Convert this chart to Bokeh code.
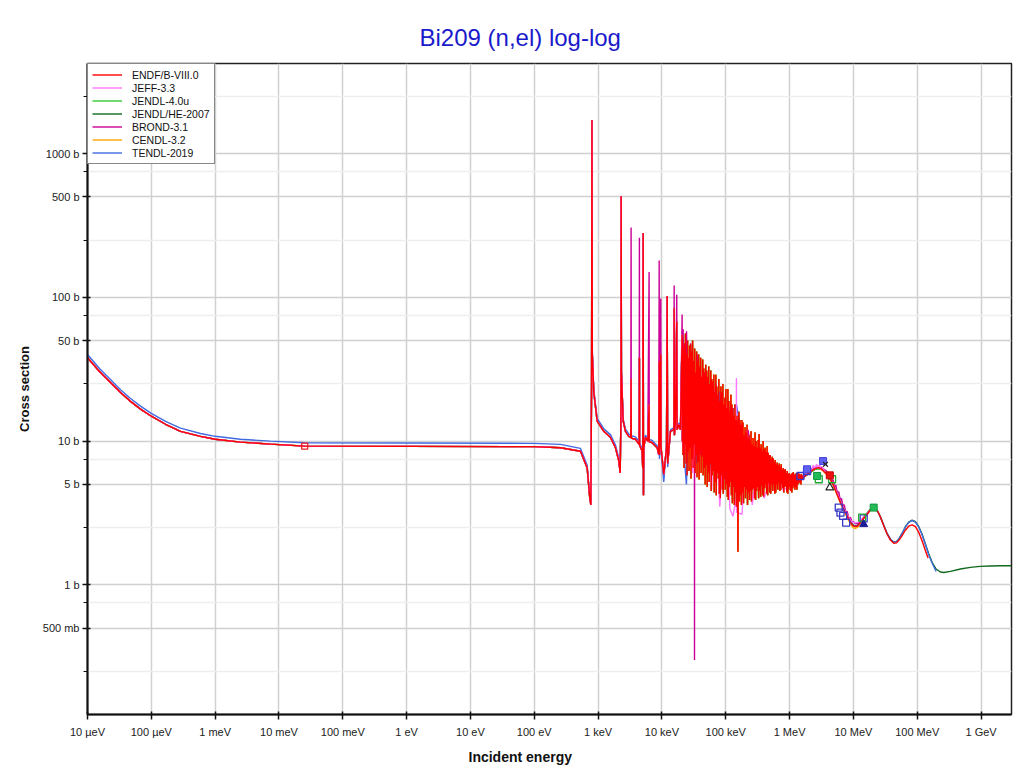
from bokeh.plotting import figure
from bokeh.models import (Range1d, FixedTicker, CustomJSTickFormatter, Legend,
                          LegendItem, Title)
from bokeh.embed import file_html
from bokeh.resources import INLINE

# ---------------- axes ----------------
x_tick_values = [1e-5, 1e-4, 1e-3, 1e-2, 1e-1, 1e0, 1e1, 1e2, 1e3, 1e4, 1e5, 1e6, 1e7, 1e8, 1e9]
x_tick_labels = ["10 µeV", "100 µeV", "1 meV", "10 meV", "100 meV", "1 eV", "10 eV",
                 "100 eV", "1 keV", "10 keV", "100 keV", "1 MeV", "10 MeV", "100 MeV", "1 GeV"]
y_tick_values = [0.5, 1, 5, 10, 50, 100, 500, 1000]
y_tick_labels = ["500 mb", "1 b", "5 b", "10 b", "50 b", "100 b", "500 b", "1000 b"]
y_minor_ticks = [0.25, 0.75, 2.5, 7.5, 25, 75, 250, 750, 2500]

# ---------------- evaluated data (E in eV, cross section in b) ----------------
# thermal / 1/v region (ENDF and most libraries)
low_e = [1e-5, 1.54e-5, 2.29e-5, 3.29e-5, 4.72e-5, 6.77e-5, 1.0e-4, 1.67e-4, 2.86e-4, 5.89e-4,
         1.0e-3, 2.49e-3, 7.36e-3, 0.0253, 1.0, 100, 257, 530, 674, 740, 770]
low_xs = [38, 30.5, 25.6, 21.8, 18.9, 16.7, 14.9, 13.1, 11.7, 10.8,
          10.3, 9.84, 9.53, 9.23, 9.2, 9.15, 9.0, 8.5, 6.5, 4.05, 3.6]
tendl_low_xs = [40, 32, 26.8, 22.8, 19.8, 17.5, 15.6, 13.7, 12.3, 11.3,
                10.8, 10.3, 10.0, 9.75, 9.7, 9.65, 9.5, 8.9, 6.8, 4.2, 3.7]

# resolved resonance region
res_e = [790, 801, 812, 855, 966, 1227, 1563, 1871, 2110, 2218, 2280, 2297, 2320, 2471, 2685,
         3021, 3250, 3290, 3310, 3849, 4397, 4440, 4460, 4898, 5002, 5082, 5140, 5200, 5521,
         5998, 6300, 6330, 7031, 8414, 8913, 9057, 9150, 9590, 9700, 10690, 11800, 12080,
         12300, 13610, 15400, 15550, 15700, 16290, 17070, 17300, 18360, 19500, 20730, 20900]
res_xs = [25, 1700, 40, 22, 13.8, 11.7, 10.6, 9.0, 7.3, 6.0, 15, 504, 30, 13.8, 11.7,
          10.8, 10.6, 27, 10.5, 10.3, 9.5, 38, 9.4, 8.5, 6.5, 280, 4.2, 9, 10.6,
          10.0, 18, 9.9, 9.75, 9.0, 8.1, 36, 8, 40, 9, 5.9, 9, 102,
          7, 11.7, 12, 84, 11, 13.8, 68, 12, 13, 12, 55, 10]
brond_res_xs = [25, 1700, 40, 22, 13.8, 11.7, 10.6, 9.0, 7.3, 6.0, 15, 504, 30, 13.8, 11.7,
                10.8, 10.6, 306, 10.5, 10.3, 9.5, 260, 9.4, 8.5, 6.5, 280, 4.2, 9, 10.6,
                10.0, 150, 9.9, 9.75, 9.0, 8.1, 180, 8, 98, 9, 5.9, 9, 102,
                7, 11.7, 12, 121, 11, 13.8, 104, 12, 13, 12, 76, 10]
tendl_res_xs = [26, 1700, 42, 23, 14.4, 12.2, 11.1, 9.4, 7.6, 6.2, 15, 500, 31, 14.3, 12.1,
                11.2, 11.0, 27, 10.9, 10.7, 9.9, 38, 9.8, 8.8, 6.6, 280, 4.3, 9.3, 11.0,
                10.4, 18, 10.3, 10.1, 9.3, 8.0, 36, 7.5, 40, 8.5, 5.2, 9.3, 100,
                6.6, 12, 12.4, 84, 11.4, 14.2, 66, 12.3, 13.4, 12.4, 54, 10.3]

# dense resonance structure, ENDF (energies in keV)
grass_e_kev = [
    21.0, 21.4, 21.8, 22.2, 22.6, 23.0, 23.4, 23.85, 24.3, 24.75,
    25.2, 25.65, 26.1, 26.6, 27.1, 27.6, 28.1, 28.6, 29.1, 29.65,
    30.2, 30.75, 31.3, 31.9, 32.5, 33.1, 33.7, 34.3, 34.9, 35.55,
    36.2, 36.9, 37.6, 38.3, 39.0, 39.7, 40.4, 41.15, 41.9, 42.7,
    43.5, 44.3, 45.1, 45.95, 46.8, 47.65, 48.5, 49.4, 50.3, 51.25,
    52.2, 53.15, 54.1, 55.1, 56.1, 57.15, 58.2, 59.25, 60.3, 61.45,
    62.6, 63.75, 64.9, 66.1, 67.3, 68.55, 69.8, 71.1, 72.4, 73.7,
    75.0, 76.4, 77.8, 79.25, 80.7, 82.2, 83.7, 85.25, 86.8, 88.4,
    90.0, 91.65, 93.3, 95.05, 96.8, 98.6, 100.4, 102.25, 104.1, 106.0,
    107.9, 109.9, 111.9, 114.0, 116.1, 118.25, 120.4, 122.6, 124.8, 127.15,
    129.5, 131.85, 134.2, 136.7, 139.2, 141.8, 144.4, 147.05, 149.7, 152.5,
    155.3, 158.15, 161.0, 164.0, 167.0, 170.1, 173.2, 176.4, 179.6, 182.9,
    186.2, 189.65, 193.1, 196.7, 200.3, 204.0, 207.7, 211.55, 215.4, 219.35,
    223.3, 227.45, 231.6, 235.9, 240.2, 244.65, 249.1, 253.7, 258.3, 263.05,
    267.8, 272.75, 277.7, 282.85, 288.0, 293.35, 298.7, 304.2, 309.7, 315.45,
    321.2, 327.15, 333.1, 339.25, 345.4, 351.8, 358.2, 364.8, 371.4, 378.3,
    385.2, 392.3, 399.4, 406.8, 414.2, 421.9, 429.6, 437.5, 445.4, 453.65,
    461.9, 470.45, 479.0, 487.9, 496.8, 505.95, 515.1, 524.65, 534.2, 544.1,
    554.0, 564.25, 574.5, 585.1, 595.7, 606.75, 617.8, 629.25, 640.7, 652.55,
    664.4, 676.7, 689.0, 701.75, 714.5, 727.7, 740.9, 754.6, 768.3, 782.55,
    796.8, 811.55, 826.3, 841.6, 856.9, 872.75, 888.6, 905.05, 921.5, 938.55,
    955.6, 973.3, 991.0, 1009.35, 1027.7, 1046.7, 1065.7, 1085.4, 1105.1, 1125.55,
    1146.0, 1167.2, 1188.4, 1210.4, 1232.4, 1255.2, 1278.0, 1301.65, 1325.3, 1349.8,
    1374.3, 1399.75, 1425.2, 1451.6, 1478.0, 1505.35, 1532.7, 1561.05, 1589.4, 1618.8,
    1648.2]
grass_xs = [
    52, 8, 44, 6.5, 48, 9.5, 56, 7, 40, 5.8,
    50, 8.5, 38, 6.2, 46, 9, 47, 5.5, 42, 7.5,
    50, 6.5, 36, 9.5, 44, 6, 30, 8, 42, 5.6,
    36, 7.2, 40, 5.4, 33, 8.5, 38, 6, 28, 7.8,
    37, 5.8, 32, 6.5, 30, 5, 34, 6.8, 31, 4.8,
    28, 6, 33, 5.2, 25, 7, 31, 4.5, 27, 5.8,
    26, 6.2, 29, 4.4, 22, 5.2, 29, 4.2, 24, 6,
    21, 5.5, 27, 4.3, 19, 4, 24, 5.8, 22, 4.6,
    25, 4.3, 18, 5.4, 20, 4.6, 23, 5, 17, 4.1,
    23, 3.9, 19, 4.8, 16, 5.2, 21, 4.2, 18, 3.7,
    17, 4.8, 15, 3.6, 18, 4.4, 14, 3.5, 15, 12,
    1.7, 13, 16, 3.8, 14, 4.2, 13, 3.6, 14, 4.4,
    13.5, 3.7, 11, 4.8, 12.5, 4.0, 11.5, 4.6, 13, 3.6,
    10.5, 4.4, 11, 3.9, 10, 4.5, 11.7, 3.8, 9.5, 4.6,
    10.5, 4.7, 9.2, 4.0, 11.5, 3.9, 10, 4.5, 9.0, 4.8,
    10.2, 4.0, 11.2, 4.5, 9.0, 4.1, 9.5, 4.9, 8.6, 4.2,
    10, 4.1, 8.8, 4.7, 9, 5, 8.4, 4.3, 9.2, 4.2,
    8.3, 5.1, 8.0, 4.4, 8, 4.3, 7.5, 5.0, 7.8, 4.5,
    7.6, 5, 7.2, 4.3, 7.4, 4.4, 6.9, 5.0, 7.1, 4.6,
    6.8, 5.1, 7, 4.5, 6.6, 4.6, 6.9, 5, 6.3, 4.7,
    6.5, 4.4, 6.3, 4.8, 6.4, 4.9, 6.0, 4.4, 6.2, 4.3,
    5.9, 4.6, 6, 4.8, 5.8, 4.5, 5.9, 4.4, 6.0, 4.7,
    6.1, 4.9, 5.8, 4.6, 5.9, 4.8, 6.0, 4.6, 5.9, 5.0,
    6.1, 5.1, 5.9, 5.2, 5.8, 5.0, 5.9, 5.4, 5.7, 5.5,
    5.6]
brond_grass_e_kev = [21.5, 22.5, 24.3, 26.0, 28.1, 30.2, 32.3, 32.4, 32.5, 36.2, 40.4, 45.1,
                     54.1, 69.8, 90.0, 120.4, 160.0, 223.3, 300.0, 450.0, 700.0, 1000.0, 1500.0]
brond_grass_xs = [60, 8, 58, 9, 48, 10, 9, 0.3, 9, 40, 8, 30,
                  6, 25, 5, 18, 5, 12, 5, 8, 5.5, 5.3, 5.6]
jeff_grass_e_kev = [21.8, 25.2, 30.2, 40.4, 60.3, 67.3, 80.7, 100.4, 116.1, 129.5, 146.0,
                    147.0, 148.0, 180.0, 215.0, 260.0, 330.0, 400.0, 600.0, 800.0, 1200.0, 1650.0]
jeff_grass_xs = [8, 40, 6, 30, 4.6, 22, 3.5, 18, 3.4, 3.0, 4.0,
                 27.5, 3.2, 3.1, 12, 3.6, 9, 4, 7, 4.5, 5.5, 5.6]
tendl_grass_e_kev = [21.8, 24.2, 28.0, 35.0, 45.0, 60.0, 80.0, 100.0, 130.0, 147.0, 166.0,
                     200.0, 300.0, 500.0, 800.0, 1200.0, 1650.0]
tendl_grass_xs = [9, 5, 35, 7, 30, 6, 22, 5, 16, 18, 13, 5, 9, 5, 6, 5, 5.6]

# fast region (eV)
endf_fast_e = [2.12e6, 2.54e6, 2.87e6, 3.24e6, 3.87e6, 4.37e6, 4.93e6, 5.56e6, 6.27e6, 7.07e6,
               7.97e6, 8.99e6, 9.89e6, 10.8e6, 11.7e6, 12.9e6, 14.5e6, 16.4e6, 18.5e6, 20.4e6,
               22.1e6, 24.1e6, 26.5e6, 29.9e6, 33.7e6, 38.0e6, 42.9e6, 47.2e6, 52.0e6, 57.9e6,
               65.3e6, 73.6e6, 83.2e6, 93.8e6, 105.7e6, 119e6, 134.5e6, 148e6]
endf_fast_xs = [6.13, 6.47, 6.54, 6.36, 5.87, 5.43, 4.88, 4.27, 3.74, 3.36,
                3.02, 2.72, 2.58, 2.54, 2.58, 2.72, 2.91, 3.10, 3.33, 3.45,
                3.42, 3.24, 2.97, 2.58, 2.26, 2.05, 1.95, 1.96, 2.05, 2.20,
                2.40, 2.56, 2.62, 2.54, 2.32, 2.03, 1.73, 1.54]
jendl_fast_e = [2.12e6, 2.54e6, 2.87e6, 3.24e6, 3.87e6, 4.37e6, 4.93e6, 5.56e6, 6.27e6, 7.07e6,
                7.97e6, 8.99e6, 9.89e6, 10.8e6, 11.7e6, 12.9e6, 14.5e6, 16.4e6, 18.5e6, 20.4e6]
jendl_fast_xs = [6.05, 6.38, 6.45, 6.35, 5.98, 5.58, 5.05, 4.45, 3.9, 3.48,
                 3.1, 2.78, 2.62, 2.56, 2.6, 2.74, 2.95, 3.15, 3.36, 3.45]
cendl_fast_xs = [6.1, 6.45, 6.5, 6.3, 5.8, 5.35, 4.8, 4.2, 3.68, 3.3,
                 2.95, 2.66, 2.5, 2.47, 2.52, 2.68, 2.9, 3.1, 3.32, 3.44]
jendlhe_high_e = [22.1e6, 24.1e6, 26.5e6, 29.9e6, 33.7e6, 38.0e6, 42.9e6, 47.2e6, 52.0e6,
                  57.9e6, 65.3e6, 73.6e6, 83.2e6, 93.8e6, 105.7e6, 119e6, 134.5e6, 151.7e6,
                  171e6, 197.7e6, 231e6, 260e6, 331e6, 475e6, 681e6, 977e6, 1.40e9, 2.01e9, 3e9]
jendlhe_high_xs = [3.42, 3.25, 2.99, 2.6, 2.28, 2.08, 1.99, 2.0, 2.1,
                   2.28, 2.54, 2.73, 2.82, 2.75, 2.54, 2.26, 1.92, 1.64,
                   1.435, 1.29, 1.23, 1.22, 1.243, 1.29, 1.325, 1.346, 1.354, 1.36, 1.36]
brond_fast_e = [2.0e6, 2.3e6, 2.6e6, 2.9e6, 3.2e6, 3.5e6, 3.8e6, 4.05e6, 4.3e6, 4.55e6,
                4.8e6, 5.05e6, 5.3e6, 5.6e6, 5.9e6, 6.2e6, 6.5e6, 6.85e6, 7.2e6, 7.6e6,
                8.0e6, 8.5e6, 9.0e6, 9.6e6, 10.2e6, 10.8e6, 11.7e6, 12.9e6, 14.5e6, 16.4e6,
                18.5e6, 20.4e6]
brond_fast_xs = [6.1, 6.5, 6.65, 6.7, 6.55, 6.35, 6.2, 5.7, 5.85, 5.25,
                 5.4, 4.8, 4.95, 4.35, 4.45, 3.9, 4.0, 3.55, 3.6, 3.2,
                 3.25, 2.9, 2.95, 2.72, 2.74, 2.66, 2.68, 2.78, 2.95, 3.12,
                 3.33, 3.43]
jeff_fast_e = [1.9e6, 2.05e6, 2.2e6, 2.35e6, 2.5e6, 2.65e6, 2.8e6, 2.95e6, 3.1e6, 3.3e6,
               3.6e6, 3.9e6, 4.37e6, 4.93e6, 5.56e6, 6.27e6, 7.07e6, 7.97e6, 8.99e6, 9.89e6,
               10.8e6, 11.7e6, 12.9e6, 14.5e6, 16.4e6, 18.5e6, 20.4e6]
jeff_fast_xs = [6.0, 6.5, 6.2, 6.8, 6.4, 6.9, 6.5, 6.85, 6.4, 6.5,
                6.1, 5.8, 5.45, 4.95, 4.35, 3.8, 3.42, 3.1, 2.82, 2.72,
                2.7, 2.72, 2.8, 2.95, 3.12, 3.34, 3.45]
tendl_fast_e = [2.12e6, 2.54e6, 2.87e6, 3.24e6, 3.87e6, 4.37e6, 4.93e6, 5.56e6, 6.27e6, 7.07e6,
                7.97e6, 8.99e6, 9.89e6, 10.8e6, 11.7e6, 12.9e6, 14.5e6, 16.4e6, 18.5e6, 20.4e6,
                24.1e6, 29.9e6, 33.7e6, 38.0e6, 42.9e6, 47.2e6, 52.0e6, 57.9e6, 65.3e6, 73.6e6,
                83.2e6, 93.8e6, 105.7e6, 119e6, 134.5e6, 151.7e6, 171e6, 197.7e6]
tendl_fast_xs = [6.15, 6.5, 6.55, 6.35, 5.9, 5.45, 4.9, 4.3, 3.78, 3.4,
                 3.05, 2.75, 2.6, 2.56, 2.6, 2.74, 2.93, 3.12, 3.34, 3.45,
                 3.24, 2.6, 2.28, 2.08, 1.99, 2.0, 2.1, 2.28, 2.53, 2.72,
                 2.8, 2.73, 2.52, 2.24, 1.9, 1.62, 1.42, 1.24]

# experimental points (EXFOR)
exp_open_blue_e = [1.48e6, 1.88e6, 5.9e6, 6.27e6, 6.9e6, 7.7e6, 14.5e6]
exp_open_blue_xs = [5.72, 6.2, 3.45, 3.18, 3.02, 2.71, 2.9]
exp_fill_blue_e = [1.88e6, 3.35e6]
exp_fill_blue_xs = [6.37, 7.27]
exp_open_green_e = [2.87e6, 4.64e6, 13.7e6]
exp_open_green_xs = [5.43, 5.43, 2.94]
exp_fill_green_e = [2.7e6, 20.8e6]
exp_fill_green_xs = [5.72, 3.45]
exp_tri_navy_e = [14.5e6]
exp_tri_navy_xs = [2.64]
exp_tri_black_e = [4.27e6]
exp_tri_black_xs = [4.75]
exp_x_black_e = [3.65e6]
exp_x_black_xs = [6.9]
exp_fill_red_e = [4.27e6]
exp_fill_red_xs = [5.78]
exp_thermal_e = [0.0253]
exp_thermal_xs = [9.23]

# ---------------- assemble series ----------------
def kev(lst):
    return [v * 1e3 for v in lst]

series = {
    "ENDF/B-VIII.0": (low_e + res_e + kev(grass_e_kev) + endf_fast_e,
                      low_xs + res_xs + grass_xs + endf_fast_xs, "#ff0000"),
    "JEFF-3.3": (low_e + res_e + kev(jeff_grass_e_kev) + jeff_fast_e,
                 low_xs + res_xs + jeff_grass_xs + jeff_fast_xs, "#ff77ff"),
    "JENDL-4.0u": (low_e + res_e + kev(grass_e_kev) + jendl_fast_e,
                   low_xs + res_xs + grass_xs + jendl_fast_xs, "#33cc33"),
    "JENDL/HE-2007": (low_e + res_e + kev(grass_e_kev) + jendl_fast_e + jendlhe_high_e,
                      low_xs + res_xs + grass_xs + jendl_fast_xs + jendlhe_high_xs, "#116b1e"),
    "BROND-3.1": (low_e + res_e + kev(brond_grass_e_kev) + brond_fast_e,
                  low_xs + brond_res_xs + brond_grass_xs + brond_fast_xs, "#cc0099"),
    "CENDL-3.2": (low_e + res_e + kev(grass_e_kev) + jendl_fast_e,
                  low_xs + res_xs + grass_xs + cendl_fast_xs, "#ffa500"),
    "TENDL-2019": (low_e + res_e + kev(tendl_grass_e_kev) + tendl_fast_e,
                   tendl_low_xs + tendl_res_xs + tendl_grass_xs + tendl_fast_xs, "#4169e1"),
}
legend_order = ["ENDF/B-VIII.0", "JEFF-3.3", "JENDL-4.0u", "JENDL/HE-2007",
                "BROND-3.1", "CENDL-3.2", "TENDL-2019"]
draw_order = ["JENDL/HE-2007", "JENDL-4.0u", "CENDL-3.2", "TENDL-2019",
              "BROND-3.1", "JEFF-3.3", "ENDF/B-VIII.0"]

FONT = "Liberation Sans"

p = figure(width=1016, height=772, x_axis_type="log", y_axis_type="log",
           x_range=Range1d(1e-5, 3e9), y_range=Range1d(0.1256, 4226),
           output_backend="svg", toolbar_location=None,
           min_border_left=87, min_border_right=5, min_border_top=63, min_border_bottom=58,
           background_fill_color="white", border_fill_color="white")

p.title.text = "Bi209 (n,el) log-log"
p.title.align = "left"
p.title.offset = 332
p.title.standoff = 26
p.title.text_font = FONT
p.title.text_font_size = "24px"
p.title.text_font_style = "normal"
p.title.text_color = "#1a1acc"

p.add_layout(Title(text="Incident energy", align="left", offset=381, standoff=12,
                   text_font=FONT, text_font_size="14px", text_font_style="bold",
                   text_color="#111111"),
             "below")

# axes
p.xaxis.ticker = FixedTicker(ticks=x_tick_values, minor_ticks=[])
p.xaxis.formatter = CustomJSTickFormatter(args=dict(labels=x_tick_labels), code="""
    const i = Math.round(Math.log10(tick)) + 5;
    return (i >= 0 && i < labels.length) ? labels[i] : "";
""")
p.yaxis.ticker = FixedTicker(ticks=y_tick_values, minor_ticks=y_minor_ticks)
p.yaxis.formatter = CustomJSTickFormatter(args=dict(vals=y_tick_values, labels=y_tick_labels), code="""
    for (let k = 0; k < vals.length; k++) {
        if (Math.abs(Math.log10(tick / vals[k])) < 1e-6) return labels[k];
    }
    return "";
""")
for ax in (p.xaxis, p.yaxis):
    ax.axis_line_color = "#111111"
    ax.axis_line_width = 2
    ax.major_tick_line_color = "#111111"
    ax.major_tick_line_width = 1.5
    ax.major_tick_out = 5
    ax.major_tick_in = 3
    ax.major_label_text_font = FONT
    ax.major_label_text_font_size = "11px"
    ax.major_label_text_color = "#222222"
p.xaxis.major_label_standoff = 6
p.yaxis.major_label_standoff = 3
p.yaxis.minor_tick_line_color = "#111111"
p.yaxis.minor_tick_line_width = 1
p.yaxis.minor_tick_out = 4
p.yaxis.minor_tick_in = 0
p.yaxis.axis_label = "Cross section"
p.yaxis.axis_label_text_font = FONT
p.yaxis.axis_label_text_font_size = "13px"
p.yaxis.axis_label_text_font_style = "bold"
p.yaxis.axis_label_text_color = "#111111"
p.yaxis.axis_label_standoff = 8

p.xgrid.grid_line_color = "#d0d0d0"
p.xgrid.grid_line_width = 1.5
p.ygrid.grid_line_color = "#d0d0d0"
p.ygrid.grid_line_width = 1.5
p.ygrid.minor_grid_line_color = "#eeeeee"
p.ygrid.minor_grid_line_width = 1.5
p.outline_line_color = "#222222"
p.outline_line_width = 1.5

renderers = {}
for name in draw_order:
    e, xs, col = series[name]
    renderers[name] = p.line(e, xs, line_color=col, line_width=1.4)

# experimental markers
p.scatter(exp_open_blue_e, exp_open_blue_xs, marker="square", size=7, fill_color=None,
          line_color="#3838c8", line_width=1.3)
p.scatter(exp_fill_blue_e, exp_fill_blue_xs, marker="square", size=7, fill_color="#6060f0",
          line_color="#4040e0")
p.scatter(exp_open_green_e, exp_open_green_xs, marker="square", size=7, fill_color=None,
          line_color="#22aa33", line_width=1.3)
p.scatter(exp_fill_green_e, exp_fill_green_xs, marker="square", size=7, fill_color="#22bb55",
          line_color="#119944")
p.scatter(exp_tri_navy_e, exp_tri_navy_xs, marker="triangle", size=8, fill_color="#1a1a99",
          line_color="#1a1a99")
p.scatter(exp_tri_black_e, exp_tri_black_xs, marker="triangle", size=8, fill_color=None,
          line_color="#222222", line_width=1.2)
p.scatter(exp_x_black_e, exp_x_black_xs, marker="x", size=7, line_color="#222222", line_width=1.2)
p.scatter(exp_fill_red_e, exp_fill_red_xs, marker="square", size=7, fill_color="#ee1111",
          line_color="#cc0000")
p.scatter(exp_thermal_e, exp_thermal_xs, marker="square", size=6, fill_color=None,
          line_color="#ee2222", line_width=1.3)

legend = Legend(items=[LegendItem(label=n, renderers=[renderers[n]]) for n in legend_order],
                location="top_left", margin=0, padding=4, spacing=0,
                label_height=13, glyph_height=13, glyph_width=30, label_standoff=10,
                label_text_font=FONT, label_text_font_size="10.5px",
                label_text_color="#111111",
                border_line_color="#111111", border_line_width=1,
                background_fill_color="white", background_fill_alpha=1.0)
p.add_layout(legend)

open("out.html", "w").write(file_html(p, INLINE))
